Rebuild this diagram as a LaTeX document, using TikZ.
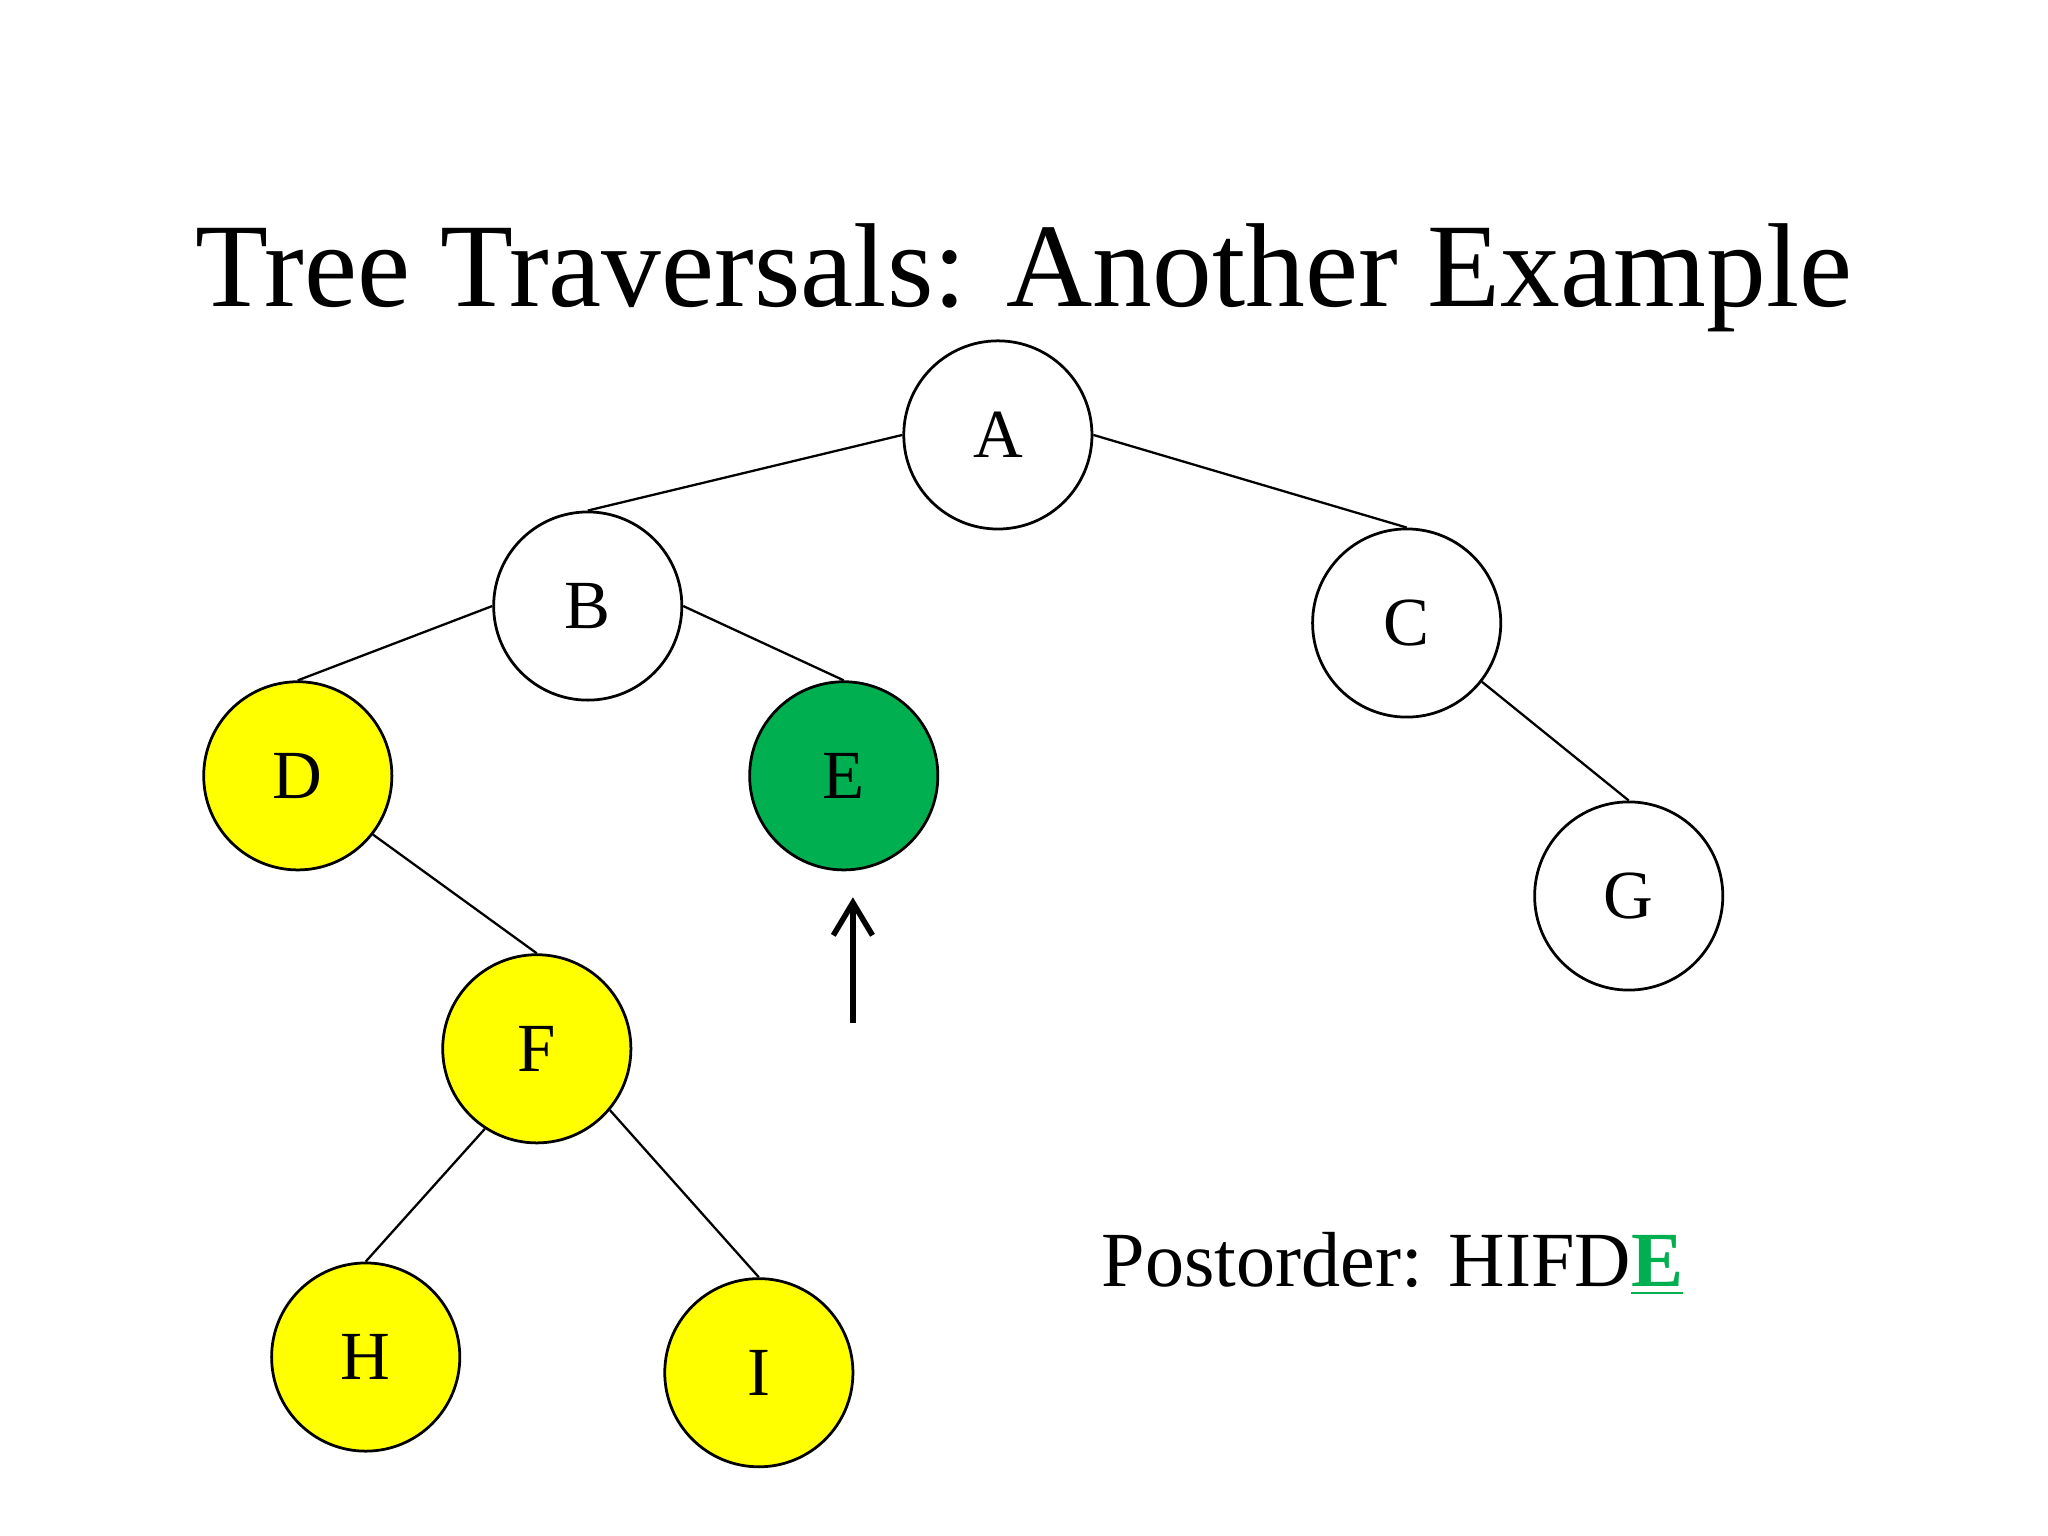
\documentclass[tikz,border=0pt]{standalone}
\usepackage{fontspec}
\setmainfont{Liberation Serif}
\usetikzlibrary{arrows.meta}
\definecolor{myyellow}{HTML}{FFFF00}
\definecolor{mygreen}{HTML}{00B050}
\begin{document}
\begin{tikzpicture}[x=0.01cm,y=-0.01cm,
  nd/.style={circle,draw,line width=0.6pt,minimum size=1.44cm,inner sep=0pt,font=\fontsize{15}{18}\selectfont},
  ed/.style={line width=0.5pt}]
\useasboundingbox (0,0) rectangle (1568,1176);
\node[font=\fontsize{26}{30}\selectfont,anchor=base] (title) at (784,235) {Tree Traversals: Another Example};
\node[nd] (A) at (764,333) {A};
\node[nd] (B) at (450,464) {B};
\node[nd] (C) at (1077,477) {C};
\node[nd,fill=myyellow] (D) at (228,594) {D};
\node[nd,fill=mygreen] (E) at (646,594) {E};
\node[nd,fill=myyellow] (F) at (411,803) {F};
\node[nd] (G) at (1247,686) {G};
\node[nd,fill=myyellow] (H) at (280,1039) {H};
\node[nd,fill=myyellow] (I) at (581,1051) {I};
\draw[ed] (A.west) -- (B.north);
\draw[ed] (A.east) -- (C.north);
\draw[ed] (B.west) -- (D.north);
\draw[ed] (B.east) -- (E.north);
\draw[ed] (C.-38) -- (G.north);
\draw[ed] (D.-38) -- (F.north);
\draw[ed] (F.-123) -- (H.north);
\draw[ed] (F.-40) -- (I.north);
\coordinate (arrs) at (653,783);
\coordinate (arre) at (653,687);
\draw[line width=1.2pt,-{Straight Barb[length=2.5mm,width=3mm]}] (arrs) -- (arre);
\node[anchor=base west,inner sep=0pt,font=\fontsize{17}{20}\selectfont] (post) at (843,985) {Postorder: HIFD\textcolor{mygreen}{\underline{\textbf{E}}}};
\end{tikzpicture}
\end{document}
